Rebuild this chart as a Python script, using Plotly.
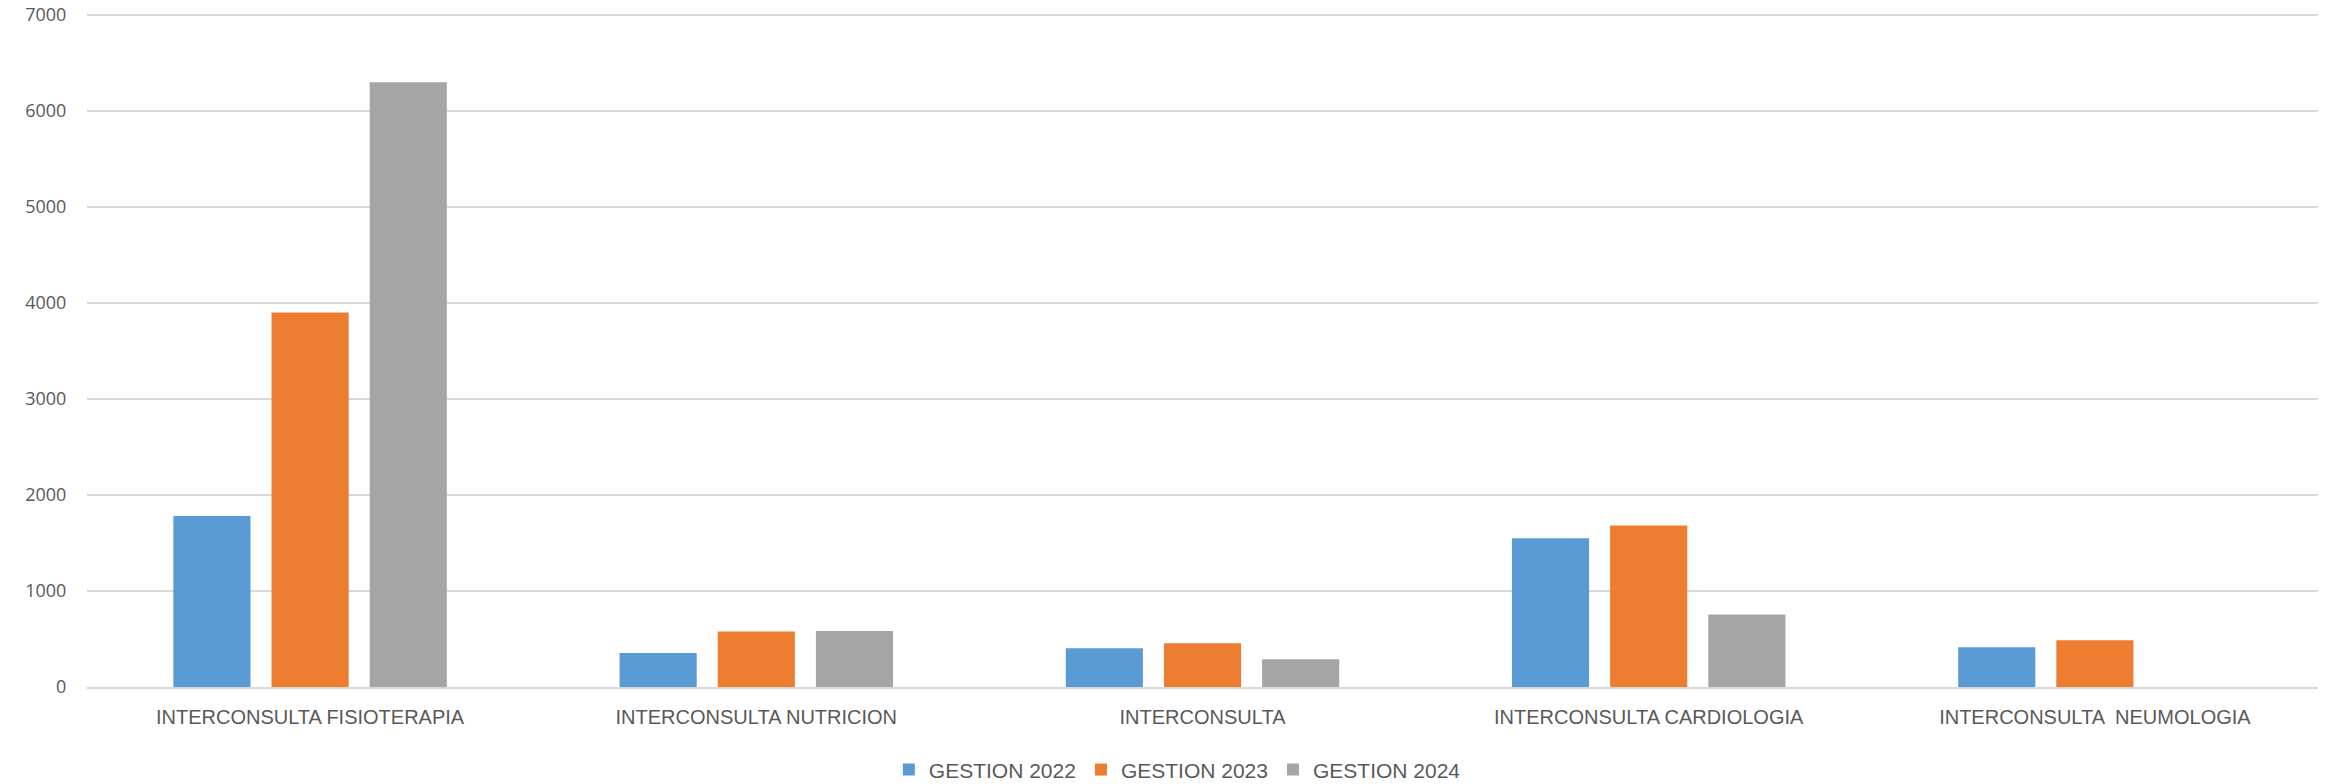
import plotly.graph_objects as go

categories = [
    "INTERCONSULTA FISIOTERAPIA",
    "INTERCONSULTA NUTRICION",
    "INTERCONSULTA",
    "INTERCONSULTA CARDIOLOGIA",
    "INTERCONSULTA \u00a0NEUMOLOGIA",
]
gestion_2022 = [1780, 355, 404, 1548, 414]
gestion_2023 = [3900, 578, 456, 1683, 487]
gestion_2024 = [6300, 582, 289, 755, None]

series_names = ["GESTION 2022", "GESTION 2023", "GESTION 2024"]
colors = ["#5B9BD5", "#ED7D31", "#A5A5A5"]
y_ticks = [0, 1000, 2000, 3000, 4000, 5000, 6000, 7000]

font_main = "Liberation Sans Narrow, Liberation Sans, Arial, sans-serif"
text_color = "#595959"

fig = go.Figure()
for name, vals, col in zip(series_names, [gestion_2022, gestion_2023, gestion_2024], colors):
    fig.add_trace(go.Bar(
        name=name, x=categories, y=vals,
        marker=dict(color=col, line=dict(width=0)),
    ))

fig.update_layout(
    width=2336, height=784,
    margin=dict(l=87, r=18, t=13, b=97, autoexpand=False),
    paper_bgcolor="white", plot_bgcolor="white",
    barmode="group", bargap=0.34, bargroupgap=0.214,
    font=dict(family=font_main, color=text_color, size=19),
    legend=dict(
        orientation="h", xref="container", yref="container",
        x=0.504, xanchor="center", y=0.018, yanchor="middle",
        font=dict(family=font_main, size=21, color=text_color),
        traceorder="normal", itemwidth=30,
    ),
    showlegend=True,
)
fig.update_xaxes(
    automargin=False,
    showgrid=False, showline=True, linecolor="#D9D9D9", linewidth=1.5,
    ticks="outside", ticklen=11, tickcolor="rgba(0,0,0,0)",
    tickfont=dict(family=font_main, size=20, color=text_color),
)
fig.update_yaxes(
    automargin=False,
    range=[0, 7020], tickvals=y_ticks, showgrid=True, gridcolor="#D9D9D9", gridwidth=1.5,
    zeroline=False, showline=False,
    ticks="outside", ticklen=16, tickcolor="rgba(0,0,0,0)",
    tickfont=dict(family="Open Sans, sans-serif", size=18, color=text_color),
)

# remove the default page margin so the figure fills the 2336x784 viewport exactly
fig.write_html(
    "out.html",
    config={"displayModeBar": False},
    post_script="document.body.style.margin='0';document.body.style.overflow='hidden';",
)
